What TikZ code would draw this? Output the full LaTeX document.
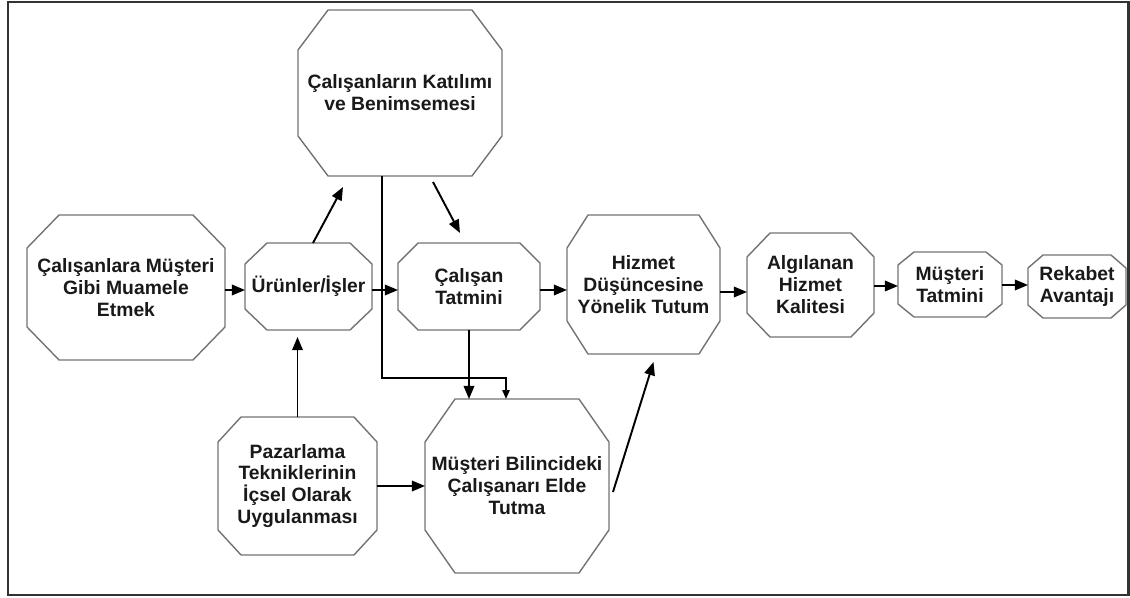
\documentclass[tikz,border=0pt]{standalone}
\usepackage{fontspec}
\setmainfont{Liberation Sans}
\usetikzlibrary{arrows.meta}
\colorlet{octgray}{black!55}

\begin{document}
\begin{tikzpicture}[x=0.02cm,y=-0.02cm]
\tikzset{box/.style={inner sep=0, outer sep=0, align=center, text=black!90,
    font=\bfseries\fontsize{11}{12.5}\selectfont},
  octline/.style={draw=octgray, line width=0.8pt, line join=miter},
  arr/.style={line width=1.1pt, -{Triangle[length=7.5pt,width=6pt]}},
  arrsmall/.style={line width=1.1pt, -{Triangle[length=5pt,width=4pt]}}}
\useasboundingbox (0,0) rectangle (1130,598);
\draw[line width=1.4pt, black!80] (8,2) rectangle (1128.5,595);

\node[box, minimum width=4.08cm, minimum height=3.32cm] (K) at (400,93) {Çalışanların Katılımı\\ve Benimsemesi};
\node[box, minimum width=3.96cm, minimum height=2.9cm] (C) at (126,287.5) {Çalışanlara Müşteri\\Gibi Muamele\\Etmek};
\node[box, minimum width=2.54cm, minimum height=1.74cm] (U) at (308.5,286.5) {Ürünler/İşler};
\node[box, minimum width=2.84cm, minimum height=1.74cm] (T) at (469,286.5) {Çalışan\\Tatmini};
\node[box, minimum width=3.06cm, minimum height=2.78cm] (H) at (643.5,284.5) {Hizmet\\Düşüncesine\\Yönelik Tutum};
\node[box, minimum width=2.54cm, minimum height=2.08cm] (A) at (810.5,285) {Algılanan\\Hizmet\\Kalitesi};
\node[box, minimum width=2.08cm, minimum height=1.3cm] (MT) at (950,284.5) {Müşteri\\Tatmini};
\node[box, minimum width=1.96cm, minimum height=1.26cm] (R) at (1077,286.5) {Rekabet\\Avantajı};
\node[box, minimum width=3.18cm, minimum height=2.76cm] (P) at (297.5,486) {Pazarlama\\Tekniklerinin\\İçsel Olarak\\Uygulanması};
\node[box, minimum width=3.68cm, minimum height=3.48cm] (M) at (517,486) {Müşteri Bilincideki\\Çalışanarı Elde\\Tutma};

\foreach \n/\a/\b in {K/30/40, C/32/33, U/22/21, T/20/20, H/21/33, A/23/24, MT/16/13, R/15/13, P/23/25, M/30/43}
  \draw[octline] ([shift={(\a,0)}]\n.north west) -- ([shift={(-\a,0)}]\n.north east)
    -- ([shift={(0,\b)}]\n.north east) -- ([shift={(0,-\b)}]\n.south east)
    -- ([shift={(-\a,0)}]\n.south east) -- ([shift={(\a,0)}]\n.south west)
    -- ([shift={(0,-\b)}]\n.south west) -- ([shift={(0,\b)}]\n.north west) -- cycle;

\draw[arr] (C.east |- 0,290) -- (U.west |- 0,290);
\draw[arr] (U.east |- 0,290) -- (T.west |- 0,290);
\draw[arr] (T.east |- 0,290) -- (H.west |- 0,290);
\draw[arr] (H.east |- 0,292) -- (A.west |- 0,292);
\draw[arr] (A.east |- 0,286) -- (MT.west |- 0,286);
\draw[arr] (MT.east |- 0,285) -- (R.west |- 0,285);
\draw[arr] (U.north -| 313,0) -- ([shift={(-57,11)}]K.south);
\draw[arr] ([shift={(33,6)}]K.south) -- ([shift={(-9,-10)}]T.north);
\draw[arrsmall] (K.south -| 382,0) |- (506,378) -- (M.north -| 506,0);
\draw[arr] (T.south) -- (T.south |- M.north);
\draw[arr] (P.north) -- (P.north |- 0,337);
\draw[arr] (P.east) -- (P.east -| M.west);
\draw[arr] ([shift={(4,6)}]M.east) -- ([shift={(10,8)}]H.south);
\end{tikzpicture}
\end{document}
